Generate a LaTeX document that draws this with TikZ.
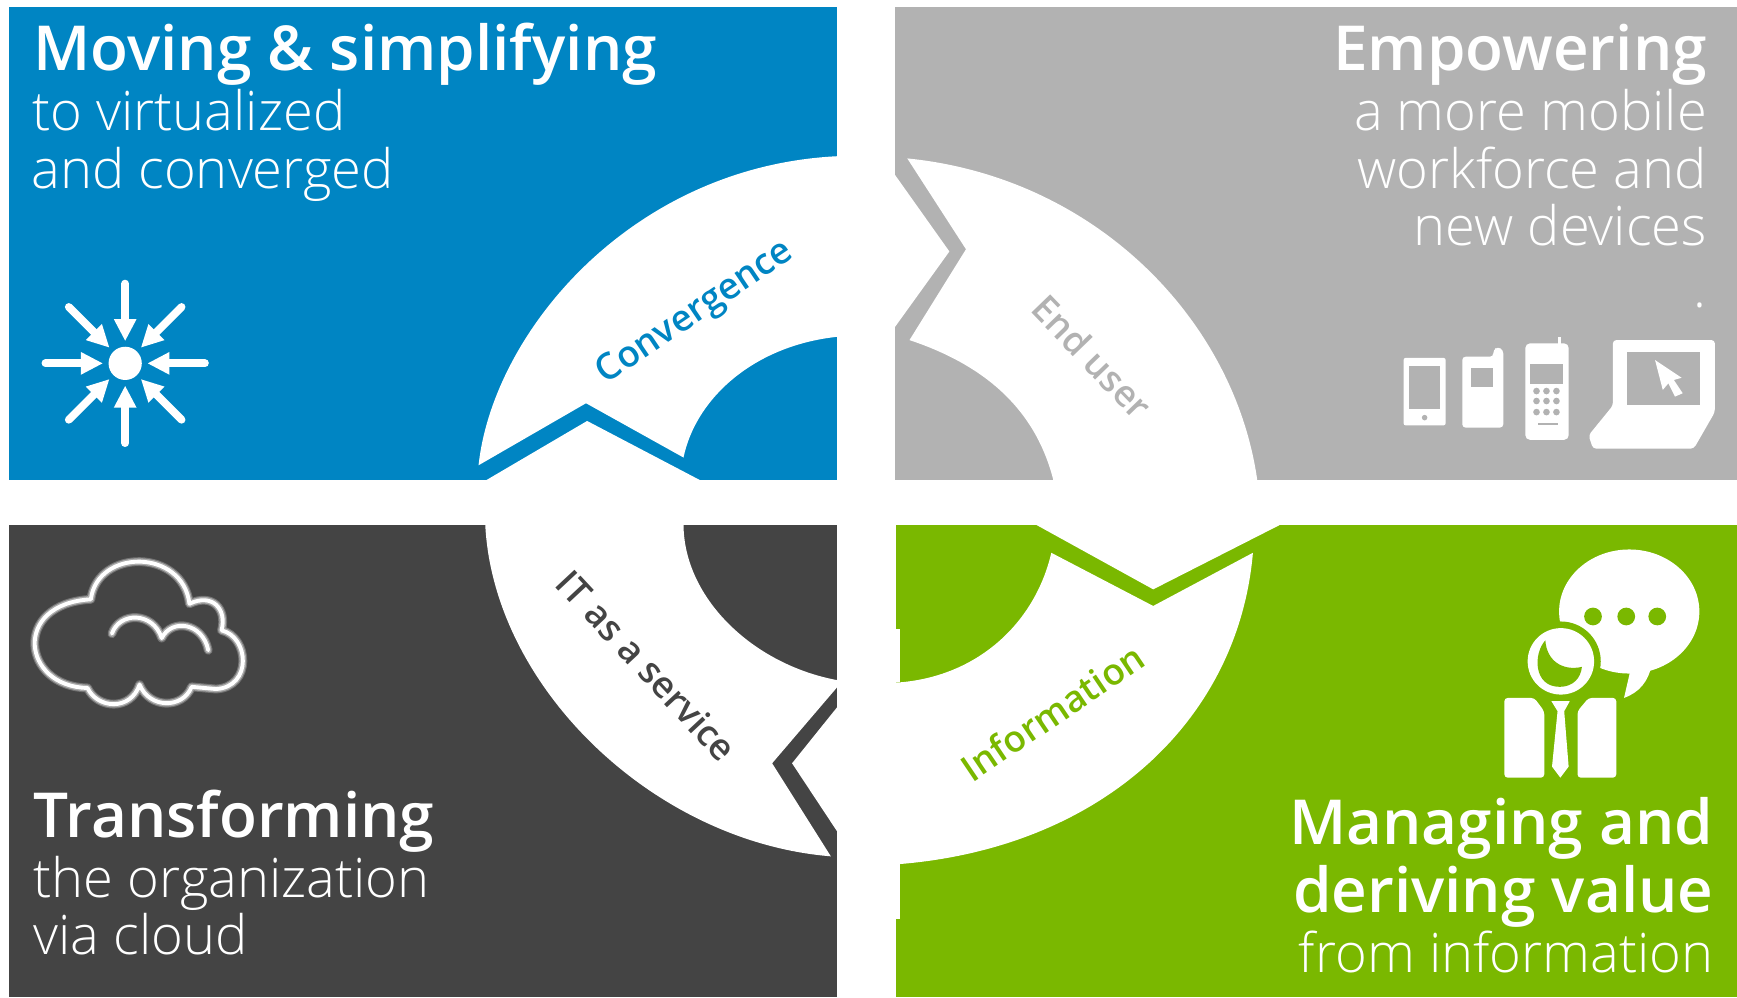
\documentclass[tikz,border=0pt]{standalone}
\usepackage{fontspec}
\usetikzlibrary{arrows.meta}
\setmainfont{Open Sans}
\newfontfamily\lightfont{Open Sans Light}
\newfontfamily\headfont{Open Sans Semibold}
\definecolor{dellblue}{HTML}{0085C3}
\definecolor{dellgray}{HTML}{B2B2B2}
\definecolor{delldark}{HTML}{444444}
\definecolor{dellgreen}{HTML}{7AB800}
\tikzset{
  headw/.style={text=white, inner sep=0pt, anchor=base west, font=\headfont\fontsize{56}{56}\selectfont},
  heade/.style={headw, anchor=base east},
  subw/.style={text=white, inner sep=0pt, anchor=base west, font=\lightfont\fontsize{49}{49}\selectfont},
  sube/.style={subw, anchor=base east},
  arclabel/.style={inner sep=0pt, font=\headfont\fontsize{33}{33}\selectfont}
}
\begin{document}
\begin{tikzpicture}[x=1pt,y=-1pt]
   \useasboundingbox (0,0) rectangle (1568,900);
   % panels
   \fill [dellblue]  (8,6) rectangle (756,433);
   \fill [dellgray]  (808,6) rectangle (1568,433);
   \fill [delldark]  (8,474) rectangle (756,900);
   \fill [dellgreen] (809,474) rectangle (1568,900);
 \begin{scope}[white]
   % convergence arrow
   \fill (432,420) .. controls (445,300) and (570,150) .. (756,141)
      -- (756,304) .. controls (680,312) and (628,360) .. (617,413)
      -- (529,364) -- cycle;
   \fill (438,434) -- (530,380) -- (633,434) -- cycle;
   % end user arrow
   \fill (819,143) .. controls (990,160) and (1115,290) .. (1135,434)
      -- (951,434) .. controls (935,370) and (890,330) .. (821,307)
      -- (872,225) -- cycle;
   \fill (808,158) -- (857,227) -- (808,295) -- cycle;
   % information arrow
   \fill (1131,499) .. controls (1118,650) and (995,765) .. (812,780)
      -- (809,780) -- (809,616) -- (812,616)
      .. controls (885,610) and (935,560) .. (949,499)
      -- (1041,547) -- cycle;
   \fill (934,473) -- (1041,532) -- (1157,473) -- cycle;
   \fill (809,568) rectangle (812,616);
   \fill (809,780) rectangle (812,830);
   % service arrow
   \fill (438,473) .. controls (445,620) and (590,760) .. (750,773)
      -- (697,689) -- (756,620) -- (756,614)
      .. controls (680,600) and (617,540) .. (617,473)
      -- cycle;
   \fill (756,638) -- (715,689) -- (756,751) -- cycle;
 \end{scope}
   % arrow labels
   \node (convergence) [arclabel, text=dellblue, rotate=34] at (628,283) {Convergence};
   \node (enduser) [arclabel, text=dellgray, rotate=-46] at (986,322) {End user};
   \node (service) [arclabel, text=delldark, rotate=-47] at (584,601) {IT as a service};
   \node (information) [arclabel, text=dellgreen, rotate=34] at (950,643) {Information};
   % panel texts
   \node (moving) [headw] at (30,64) {Moving \& simplifying};
   \node (virtualized) [subw] at (29,118) {to virtualized};
   \node (converged) [subw] at (28,170) {and converged};
   \node (empowering) [heade] at (1541,64) {Empowering};
   \node (mobile) [sube] at (1541,118) {a more mobile};
   \node (workforce) [sube] at (1541,170) {workforce and};
   \node (devices) [sube] at (1541,222) {new devices};
   \node (dot) [sube] at (1541,278) {.};
   \node (transforming) [headw] at (30,756) {Transforming};
   \node (organization) [subw] at (30,810) {the organization};
   \node (viacloud) [subw] at (30,862) {via cloud};
   \node (managing) [heade] at (1547,762) {Managing and};
   \node (deriving) [heade] at (1547,824) {deriving value};
   \node (frominfo) [sube] at (1547,878) {from information};
   % converging arrows icon
   \fill [white] (113,328) circle (15);
   \foreach \ang in {0,45,...,315}
      \draw [white, line width=7, line cap=round, -{Triangle[width=19,length=20]}]
         ([shift={(\ang:72)}]113,328) -- ([shift={(\ang:20)}]113,328);
   % cloud icon
   \foreach \wd/\op in {8/.25,6/.4,3.5/1}
      \draw [white, line width=\wd, opacity=\op, line join=round, line cap=round]
         (82,541) .. controls (88,495) and (165,495) .. (171,545)
         .. controls (192,535) and (205,550) .. (200,569)
         .. controls (225,575) and (228,620) .. (195,622) -- (173,620)
         .. controls (165,640) and (135,640) .. (126,618)
         .. controls (118,642) and (88,640) .. (79,621)
         .. controls (20,620) and (10,545) .. (82,541)
         (101,572) .. controls (108,552) and (138,552) .. (146,576)
         .. controls (155,558) and (183,562) .. (188,587);
   % tablet
   \fill [white, rounded corners=2] (1267,323) rectangle (1305,384);
   \fill [dellgray] (1272,330) rectangle (1300,369);
   \fill [dellgray] (1286,377) circle (2.5);
   % small phone
   \fill [white, rounded corners=3] (1320,322) -- (1348,322) -- (1348,316) -- (1352,313) -- (1357,316) -- (1357,386) -- (1320,386) -- cycle;
   \fill [dellgray] (1328,332) rectangle (1348,349);
   % keypad phone
   \fill [white] (1406,304) rectangle (1409,312);
   \fill [white, rounded corners=4] (1377,310) rectangle (1416,397);
   \fill [dellgray] (1381,329) rectangle (1411,347);
   \foreach \row in {353,362,372}
      \foreach \col in {1387,1396,1405}
         \fill [dellgray] (\col,\row) circle (3);
   \fill [dellgray] (1388,382) rectangle (1406,384);
   % laptop
   \fill [white, rounded corners=3] (1456,307) -- (1548,307) -- (1548,372) -- (1529,405) -- (1438,405) -- (1434,393) -- (1456,366) -- cycle;
   \fill [dellgray] (1469,318) rectangle (1535,366);
   \fill [white] (1494,325) -- (1518,341) -- (1511,343) -- (1519,355) -- (1512,358) -- (1506,346) -- (1501,352) -- cycle;
   % manager icon
   \fill [white] (1534,552) arc (0:360:63.3 and 56);
   \fill [white] (1472,604) -- (1466,630) .. controls (1480,625) and (1488,615) .. (1491,600) -- cycle;
   \fill [dellgreen] (1409,597) circle (36);
   \foreach \dotx in {1438,1468,1496}
      \fill [dellgreen] (\dotx,556.5) circle (8);
   \fill [white] (1409,597) circle (30);
   \fill [dellgreen] (1395,578) .. controls (1384,590) and (1384,620) .. (1408,620)
      .. controls (1420,620) and (1427,612) .. (1428,602)
      .. controls (1410,606) and (1396,596) .. cycle;
   \fill [white, rounded corners=3] (1358,702) -- (1358,630) -- (1385,630) -- (1394,642) -- (1394,702) -- cycle;
   \fill [white, rounded corners=3] (1459,702) -- (1459,630) -- (1434,630) -- (1424,642) -- (1424,702) -- cycle;
   \fill [white] (1400.5,633) -- (1417,633) -- (1412,642) -- (1416,692) -- (1408.5,702) -- (1401,692) -- (1406,642) -- cycle;
\end{tikzpicture}
\end{document}
